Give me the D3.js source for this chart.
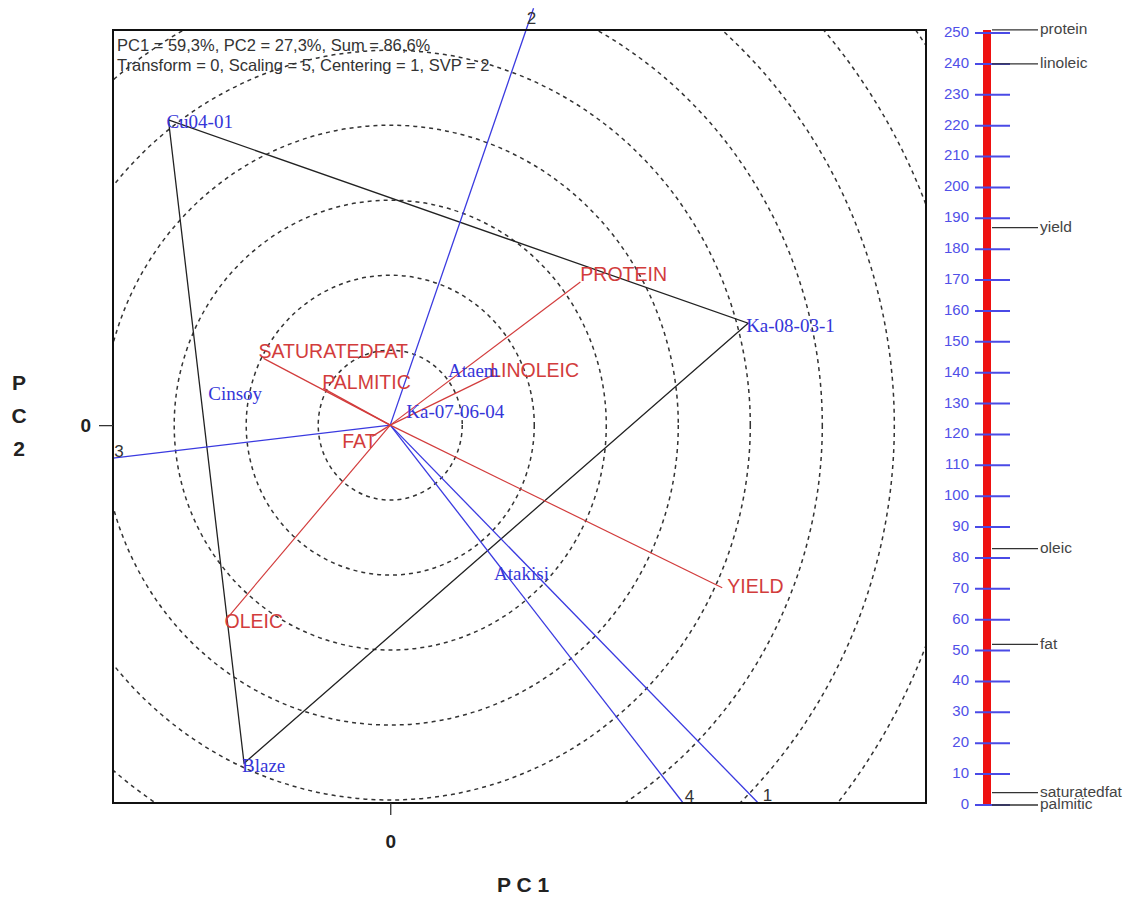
<!DOCTYPE html>
<html>
<head>
<meta charset="utf-8">
<script src="https://cdn.jsdelivr.net/npm/d3@7"></script>
<style>
  body { margin: 0; background: #fff; }
  svg { display: block; }
</style>
</head>
<body>
<script>
// genotype scores (PC1, PC2)
const genotypes = ["Cu04-01", "Ka-08-03-1", "Blaze", "Cinsoy", "Atakisi", "Ataem", "Ka-07-06-04"];
const genoPC1 = [-3.08, 4.97, -2.03, -2.50, 1.47, 0.83, 0.25];
const genoPC2 = [4.07, 1.36, -4.51, 0.45, -1.95, 0.76, 0.20];

// trait vectors (PC1, PC2)
const traits = ["PROTEIN", "LINOLEIC", "SATURATEDFAT", "PALMITIC", "FAT", "YIELD", "OLEIC"];
const traitPC1 = [2.64, 1.43, -1.76, -0.93, -0.25, 4.61, -2.26];
const traitPC2 = [1.91, 0.67, 0.89, 0.49, -0.15, -2.17, -2.57];

// convex hull vertices
const hull = ["Cu04-01", "Ka-08-03-1", "Blaze"];

// sector lines
const sectors = ["1", "2", "3", "4"];
const sectorPC1 = [5.10, 1.99, -3.85, 4.06];
const sectorPC2 = [-5.03, 5.56, -0.44, -5.03];

// concentric circle radii
const circleRadii = [1, 2, 3, 4, 5, 6, 7, 8, 9];

// ranking scale on the right
const scaleTicks = [0, 10, 20, 30, 40, 50, 60, 70, 80, 90, 100, 110, 120, 130, 140, 150, 160, 170, 180, 190, 200, 210, 220, 230, 240, 250];
const scaleNames = ["protein", "linoleic", "yield", "oleic", "fat", "saturatedfat", "palmitic"];
const scaleValues = [251, 240, 187, 83, 52, 4, 0];

const W = 1132, H = 897;
const plot = { left: 113, right: 926, top: 30, bottom: 803 };

const svg = d3.select("body").append("svg")
  .attr("width", W)
  .attr("height", H);

const x = d3.scaleLinear().domain([-3.85, 7.44]).range([plot.left, plot.right]);
const y = d3.scaleLinear().domain([-5.04, 5.27]).range([plot.bottom, plot.top]);

svg.append("clipPath").attr("id", "plotclip")
  .append("rect")
  .attr("x", plot.left).attr("y", plot.top)
  .attr("width", plot.right - plot.left).attr("height", plot.bottom - plot.top);

// dashed circles
svg.append("g").attr("clip-path", "url(#plotclip)")
  .selectAll("ellipse").data(circleRadii).enter().append("ellipse")
  .attr("cx", x(0)).attr("cy", y(0))
  .attr("rx", d => x(d) - x(0))
  .attr("ry", d => y(0) - y(d))
  .attr("fill", "none")
  .attr("stroke", "#333")
  .attr("stroke-width", 1.5)
  .attr("stroke-dasharray", "4,4");

// header text
const head = svg.append("g")
  .style("font-family", "Arial, 'Liberation Sans', sans-serif")
  .style("font-size", "16.5px")
  .attr("fill", "#333");
head.append("text").attr("x", 117).attr("y", 51).text("PC1 = 59,3%, PC2 = 27,3%, Sum = 86,6%");
head.append("text").attr("x", 117).attr("y", 71).text("Transform = 0, Scaling = 5, Centering = 1, SVP = 2");

// hull polygon
const hullPts = hull.map(n => {
  const i = genotypes.indexOf(n);
  return [x(genoPC1[i]), y(genoPC2[i])];
});
svg.append("path")
  .attr("d", d3.line()(hullPts.concat([hullPts[0]])))
  .attr("fill", "none")
  .attr("stroke", "#222")
  .attr("stroke-width", 1.3);

// sector lines
svg.append("g").selectAll("line").data(sectors).enter().append("line")
  .attr("x1", x(0)).attr("y1", y(0))
  .attr("x2", (d, i) => x(sectorPC1[i]))
  .attr("y2", (d, i) => y(sectorPC2[i]))
  .attr("stroke", "#3a3ae0")
  .attr("stroke-width", 1.3);

const sectorOff = { "1": [10, -6], "2": [-2, 11], "3": [6, -6], "4": [7, -5] };
svg.append("g").selectAll("text").data(sectors).enter().append("text")
  .attr("x", (d, i) => x(sectorPC1[i]) + sectorOff[d][0])
  .attr("y", (d, i) => y(sectorPC2[i]) + sectorOff[d][1])
  .attr("text-anchor", "middle")
  .attr("dominant-baseline", "middle")
  .style("font-family", "Arial, sans-serif")
  .style("font-size", "17px")
  .attr("fill", "#333")
  .text(d => d);

// trait vectors
svg.append("g").selectAll("line").data(traits).enter().append("line")
  .attr("x1", x(0)).attr("y1", y(0))
  .attr("x2", (d, i) => x(traitPC1[i]))
  .attr("y2", (d, i) => y(traitPC2[i]))
  .attr("stroke", "#d23c3c")
  .attr("stroke-width", 1.2);

const traitOff = { PROTEIN: [0, -6], LINOLEIC: [-3, -3], SATURATEDFAT: [-5, -6], PALMITIC: [-1, -5], FAT: [-30, 6], YIELD: [5, 0], OLEIC: [-3, 5] };
svg.append("g").selectAll("text").data(traits).enter().append("text")
  .attr("x", (d, i) => x(traitPC1[i]) + traitOff[d][0])
  .attr("y", (d, i) => y(traitPC2[i]) + traitOff[d][1])
  .attr("dominant-baseline", "middle")
  .style("font-family", "Arial, 'Liberation Sans', sans-serif")
  .style("font-size", "19.5px")
  .attr("fill", "#d23c3c")
  .text(d => d);

// genotype labels
svg.append("g").selectAll("text").data(genotypes).enter().append("text")
  .attr("x", (d, i) => x(genoPC1[i]) - 2)
  .attr("y", (d, i) => y(genoPC2[i]) + 4)
  .attr("dominant-baseline", "middle")
  .style("font-family", "'Liberation Serif', 'Times New Roman', serif")
  .style("font-size", "19px")
  .attr("fill", "#3535d8")
  .text(d => d);

// frame
svg.append("rect")
  .attr("x", plot.left).attr("y", plot.top)
  .attr("width", plot.right - plot.left).attr("height", plot.bottom - plot.top)
  .attr("fill", "none")
  .attr("stroke", "#111")
  .attr("stroke-width", 2);

// axes with only the zero tick
const xAxis = svg.append("g")
  .attr("transform", "translate(0," + plot.bottom + ")")
  .call(d3.axisBottom(x).tickValues([0]).tickSize(12).tickPadding(20).tickFormat(d3.format("d")));
const yAxis = svg.append("g")
  .attr("transform", "translate(" + plot.left + ",0)")
  .call(d3.axisLeft(y).tickValues([0]).tickSize(14).tickPadding(8).tickFormat(d3.format("d")));
[xAxis, yAxis].forEach(a => {
  a.select(".domain").remove();
  a.selectAll("line").attr("stroke", "#333").attr("stroke-width", 1.3);
  a.selectAll("text")
    .style("font-family", "Arial, sans-serif")
    .style("font-size", "19px")
    .style("font-weight", "bold")
    .attr("fill", "#222");
});

// axis titles
svg.append("text")
  .attr("x", 523).attr("y", 886)
  .attr("text-anchor", "middle")
  .attr("dominant-baseline", "middle")
  .style("font-family", "Arial, sans-serif")
  .style("font-size", "21px")
  .style("font-weight", "bold")
  .attr("fill", "#222")
  .text("P C 1");
["P", "C", "2"].forEach((c, i) => {
  svg.append("text")
    .attr("x", 19).attr("y", 384 + i * 33)
    .attr("text-anchor", "middle")
    .attr("dominant-baseline", "middle")
    .style("font-family", "Arial, sans-serif")
    .style("font-size", "21px")
    .style("font-weight", "bold")
    .attr("fill", "#222")
    .text(c);
});

// ranking scale
const s = d3.scaleLinear().domain([0, 250]).range([805, 33]);
const barX = 987;
const rank = svg.append("g");
rank.append("line")
  .attr("x1", barX).attr("x2", barX)
  .attr("y1", s(251)).attr("y2", s(0))
  .attr("stroke", "#ee1111")
  .attr("stroke-width", 8);
rank.selectAll(".tk").data(scaleTicks).enter().append("line")
  .attr("x1", 975).attr("x2", 1010)
  .attr("y1", d => s(d)).attr("y2", d => s(d))
  .attr("stroke", "#4a4ae6")
  .attr("stroke-width", 2);
rank.selectAll(".tl").data(scaleTicks).enter().append("text")
  .attr("x", 969)
  .attr("y", d => s(d))
  .attr("text-anchor", "end")
  .attr("dominant-baseline", "middle")
  .style("font-family", "Arial, sans-serif")
  .style("font-size", "15px")
  .attr("fill", "#5050e8")
  .text(d => d);
rank.selectAll(".nl").data(scaleNames).enter().append("line")
  .attr("x1", 992).attr("x2", 1038)
  .attr("y1", (d, i) => s(scaleValues[i])).attr("y2", (d, i) => s(scaleValues[i]))
  .attr("stroke", "#333")
  .attr("stroke-width", 1.3);
rank.selectAll(".nt").data(scaleNames).enter().append("text")
  .attr("x", 1040)
  .attr("y", (d, i) => s(scaleValues[i]))
  .attr("dominant-baseline", "middle")
  .style("font-family", "Arial, sans-serif")
  .style("font-size", "15.5px")
  .attr("fill", "#444")
  .text(d => d);
</script>
</body>
</html>
